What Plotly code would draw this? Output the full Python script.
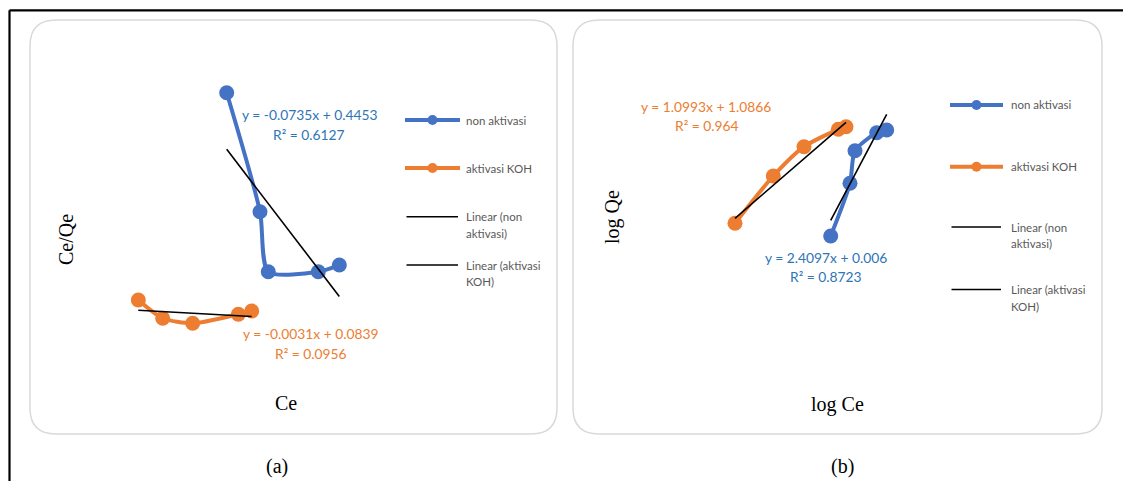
import plotly.graph_objects as go

W, H = 1123, 481

# ---------------- data ----------------
# (a) Langmuir: Ce against Ce/Qe
ce_non = [2.657, 3.279, 3.434, 4.369, 4.762]
ceqe_non = [0.3096, 0.1844, 0.1213, 0.1213, 0.1283]
ce_koh = [1.005, 1.461, 2.021, 2.874, 3.124]
ceqe_koh = [0.0915, 0.0723, 0.0670, 0.0765, 0.0799]

# (b) Freundlich: log Ce against log Qe
logce_non = [0.4539, 0.5408, 0.5633, 0.6611, 0.7061]
logqe_non = [1.0103, 1.3123, 1.4991, 1.6023, 1.6177]
logce_koh = [0.0228, 0.1953, 0.3336, 0.4881, 0.5228]
logqe_koh = [1.0831, 1.3541, 1.5220, 1.6218, 1.6367]

# linear trendlines: slope, intercept, R²
fit_a_non = [-0.0735, 0.4453, 0.6127]
fit_a_koh = [-0.0031, 0.0839, 0.0956]
fit_b_non = [2.4097, 0.006, 0.8723]
fit_b_koh = [1.0993, 1.0866, 0.964]

series_names = ["non aktivasi", "aktivasi KOH", "Linear (non aktivasi)", "Linear (aktivasi KOH)"]

# ---------------- styling ----------------
BLUE = "#4472C4"
ORANGE = "#ED7D31"
BLUE_TXT = "#2E75B6"
GREY_TXT = "#595959"
SANS = "Lato, 'Open Sans', sans-serif"
SERIF = "'Liberation Serif', 'Times New Roman', serif"


def px(x):
    return x / W


def py(y):
    return 1 - y / H


def eq_text(fit):
    m, b, r2 = fit
    sign = "+" if b >= 0 else "-"
    return f"y = {m}x {sign} {abs(b)}", f"R² = {r2}"


fig = go.Figure()


def add_series(x, y, color, xa, ya):
    fig.add_trace(go.Scatter(
        x=x, y=y, mode="lines+markers", xaxis=xa, yaxis=ya,
        line=dict(color=color, width=4, shape="spline", smoothing=0.7),
        marker=dict(color=color, size=15), showlegend=False, hoverinfo="skip"))


def add_trend(x, fit, xa, ya):
    m, b, _ = fit
    xs = [min(x), max(x)]
    fig.add_trace(go.Scatter(
        x=xs, y=[m * v + b for v in xs], mode="lines", xaxis=xa, yaxis=ya,
        line=dict(color="black", width=1.6), showlegend=False, hoverinfo="skip"))


add_series(ce_non, ceqe_non, BLUE, "x", "y")
add_series(ce_koh, ceqe_koh, ORANGE, "x", "y")
add_trend(ce_non, fit_a_non, "x", "y")
add_trend(ce_koh, fit_a_koh, "x", "y")

add_series(logce_non, logqe_non, BLUE, "x2", "y2")
add_series(logce_koh, logqe_koh, ORANGE, "x2", "y2")
add_trend(logce_non, fit_b_non, "x2", "y2")
add_trend(logce_koh, fit_b_koh, "x2", "y2")

hidden = dict(visible=False, showgrid=False, zeroline=False, fixedrange=True)
fig.update_layout(
    width=W, height=H, margin=dict(l=0, r=0, t=0, b=0),
    paper_bgcolor="white", plot_bgcolor="rgba(0,0,0,0)",
    xaxis=dict(domain=[px(84.56), px(405.56)], range=[0, 6], **hidden),
    yaxis=dict(domain=[py(387.0), py(54.3)], range=[0, 0.35], **hidden),
    xaxis2=dict(domain=[px(685.54), px(951.94)], range=[-0.2, 1.0], anchor="y2", **hidden),
    yaxis2=dict(domain=[py(325.05), py(28.40)], range=[0.5, 2.2], anchor="x2", **hidden),
)

shapes = []


def rounded_box(x0, y0, x1, y1, r):
    pts = [
        ("M", [(x0 + r, y0)]), ("L", [(x1 - r, y0)]), ("Q", [(x1, y0), (x1, y0 + r)]),
        ("L", [(x1, y1 - r)]), ("Q", [(x1, y1), (x1 - r, y1)]), ("L", [(x0 + r, y1)]),
        ("Q", [(x0, y1), (x0, y1 - r)]), ("L", [(x0, y0 + r)]), ("Q", [(x0, y0), (x0 + r, y0)]),
    ]
    path = " ".join(cmd + " " + " ".join(f"{px(a):.5f},{py(b):.5f}" for a, b in p) for cmd, p in pts) + " Z"
    return dict(type="path", xref="paper", yref="paper", path=path,
                line=dict(color="#D9D9D9", width=1.5), fillcolor="rgba(0,0,0,0)", layer="below")


shapes.append(rounded_box(30, 20, 557, 434, 26))
shapes.append(rounded_box(573, 20, 1102, 434, 26))

# outer frame (top and left rules)
shapes.append(dict(type="line", xref="paper", yref="paper", x0=px(9.5), x1=1, y0=py(10.3), y1=py(10.3),
                   line=dict(color="black", width=2.2)))
shapes.append(dict(type="line", xref="paper", yref="paper", x0=px(9.5), x1=px(9.5), y0=py(10.3), y1=0,
                   line=dict(color="black", width=2.2)))

annotations = []


def text(x, y, s, size=11.5, color=GREY_TXT, family=SANS, anchor="left", angle=0):
    annotations.append(dict(x=px(x), y=py(y), xref="paper", yref="paper", text=s, showarrow=False,
                            xanchor=anchor, yanchor="middle", textangle=angle,
                            font=dict(size=size, color=color, family=family)))


def legend_block(x0, x1, tx, ys):
    # ys: y-centres of the four entries
    for color, yy, name in [(BLUE, ys[0], series_names[0]), (ORANGE, ys[1], series_names[1])]:
        shapes.append(dict(type="line", xref="paper", yref="paper", x0=px(x0), x1=px(x1),
                           y0=py(yy), y1=py(yy), line=dict(color=color, width=4)))
        cx = (x0 + x1) / 2
        shapes.append(dict(type="circle", xref="paper", yref="paper", x0=px(cx - 5), x1=px(cx + 5),
                           y0=py(yy + 5), y1=py(yy - 5), fillcolor=color, line=dict(color=color, width=0)))
        text(tx, yy, name)
    for yy, name in [(ys[2], series_names[2]), (ys[3], series_names[3])]:
        shapes.append(dict(type="line", xref="paper", yref="paper", x0=px(x0 + 1.5), x1=px(x1 - 2),
                           y0=py(yy), y1=py(yy), line=dict(color="black", width=1.6)))
        first, second = name.rsplit(" ", 1)
        text(tx, yy, first)
        text(tx, yy + 16.6, second)


legend_block(405, 460, 464, [120, 168, 216.7, 265])
legend_block(950, 1003, 1009, [105, 166.7, 227, 289.5])

# trendline equations
l1, l2 = eq_text(fit_a_non)
text(309, 114.5, l1, 13.8, BLUE_TXT, anchor="center")
text(309, 134, l2, 13.8, BLUE_TXT, anchor="center")
l1, l2 = eq_text(fit_a_koh)
text(310, 333.5, l1, 13.8, ORANGE, anchor="center")
text(311, 353, l2, 13.8, ORANGE, anchor="center")
l1, l2 = eq_text(fit_b_koh)
text(706, 106, l1, 13.8, ORANGE, anchor="center")
text(706.5, 125.5, l2, 13.8, ORANGE, anchor="center")
l1, l2 = eq_text(fit_b_non)
text(825.5, 257, l1, 13.8, BLUE_TXT, anchor="center")
text(826, 276.5, l2, 13.8, BLUE_TXT, anchor="center")

# axis titles and panel captions
text(66, 240, "Ce/Qe", 20, "black", SERIF, "center", -90)
text(286, 403, "Ce", 20, "black", SERIF, "center")
text(613, 217, "log Qe", 20, "black", SERIF, "center", -90)
text(837, 404, "log Ce", 20, "black", SERIF, "center")
text(277, 466, "(a)", 20, "black", SERIF, "center")
text(842, 466, "(b)", 20, "black", SERIF, "center")

fig.update_layout(shapes=shapes, annotations=annotations)
fig.write_html("out.html")
